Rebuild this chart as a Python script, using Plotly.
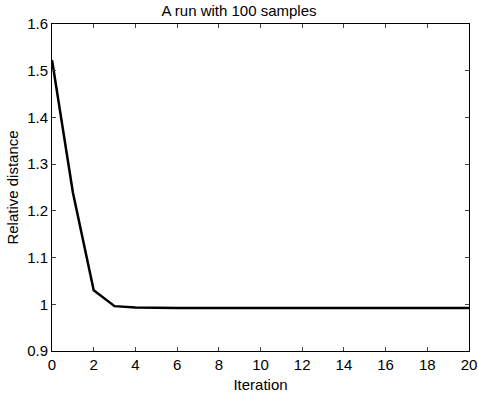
import plotly.graph_objects as go

iterations = list(range(0, 21))
rel_distance = [1.523, 1.240, 1.030, 0.996, 0.993, 0.992, 0.992, 0.992, 0.992, 0.992,
                0.992, 0.992, 0.992, 0.992, 0.992, 0.992, 0.992, 0.992, 0.992, 0.992, 0.992]
x_ticks = list(range(0, 21, 2))
y_ticks = [0.9, 1.0, 1.1, 1.2, 1.3, 1.4, 1.5, 1.6]
y_tick_text = ["0.9", "1", "1.1", "1.2", "1.3", "1.4", "1.5", "1.6"]

fig = go.Figure()
fig.add_trace(go.Scatter(x=iterations, y=rel_distance, mode="lines",
                         line=dict(color="black", width=2.5), showlegend=False))

fam = "Liberation Sans, Arial, sans-serif"
font = dict(family=fam, size=15, color="black")
fig.update_layout(
    width=478, height=399,
    margin=dict(l=52, r=9, t=24, b=48, autoexpand=False),
    paper_bgcolor="white", plot_bgcolor="white",
    font=font,
    title=dict(text="A run with 100 samples", x=0.5, xanchor="center",
               y=1 - 11 / 399, yanchor="middle", font=dict(family=fam, size=15, color="black")),
)
fig.update_xaxes(range=[0, 20], tickvals=x_ticks, ticks="inside", ticklen=4,
                 showgrid=False, zeroline=False, showline=True, linecolor="black",
                 linewidth=1, mirror="ticks", tickfont=dict(size=15), automargin=False,
                 title=dict(text="Iteration", standoff=7, font=dict(size=15)))
fig.update_yaxes(range=[0.9, 1.6], tickvals=y_ticks, ticktext=y_tick_text,
                 ticks="inside", ticklen=4, automargin=False,
                 showgrid=False, zeroline=False, showline=True, linecolor="black",
                 linewidth=1, mirror="ticks", tickfont=dict(size=15),
                 title=dict(text="Relative distance", standoff=4, font=dict(size=15)))

fig.write_html("out.html")
